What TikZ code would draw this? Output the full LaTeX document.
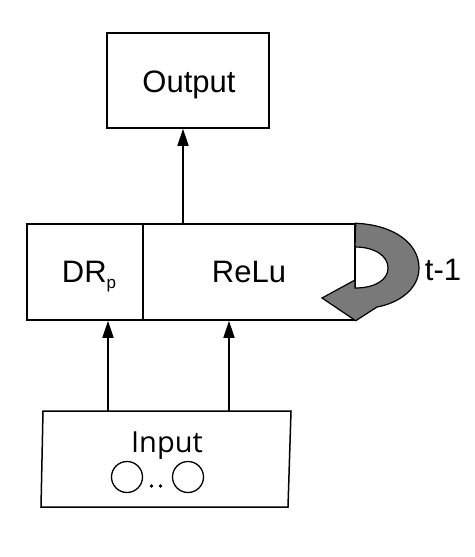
\documentclass[tikz,border=0pt]{standalone}
\usepackage{fontspec}
\setmainfont{Liberation Sans}
\newfontfamily\inputfont{Open Sans}
\usetikzlibrary{arrows.meta}
\begin{document}
\begin{tikzpicture}[x=1pt,y=-1pt,
  box/.style={draw,line width=1.5pt,inner sep=0pt,minimum width=#1},
  lbl/.style={font=\fontsize{31}{34}\selectfont,inner sep=0pt,anchor=base},
  arr/.style={line width=1.5pt,-{Triangle[width=11pt,length=17pt]}}]
\useasboundingbox (0,0) rectangle (474,557);
% boxes
\node[box=162pt,minimum height=95pt] (out) at (188,80.5) {};
\node[box=116pt,minimum height=96pt] (dr) at (85,272) {};
\node[box=212pt,minimum height=96pt] (relu) at (249,272) {};
% input box
\coordinate (i1) at (43,411);
\coordinate (i2) at (291,411);
\coordinate (i3) at (288,507);
\coordinate (i4) at (41,507);
\draw[line width=1.5pt,line join=miter] (i1) -- (i2) -- (i3) -- (i4) -- cycle;
% labels
\node[lbl] (tout) at (189,92) {Output};
\node[lbl] (tdr) at (89,282) {DR\raisebox{-6pt}{\fontsize{17}{18}\selectfont p}};
\node[lbl] (trelu) at (249,282) {ReLu};
\node[lbl] (tt) at (443,280) {t-1};
\node[font=\inputfont\fontsize{29}{30}\selectfont,inner sep=0pt,anchor=base] (tin) at (167,452) {Input};
% input circles
\draw[line width=1.3pt] (127,477) circle (15.5);
\draw[line width=1.3pt] (188,477) circle (15.5);
\fill (151.5,486) circle (1.8);
\fill (160.5,486) circle (1.8);
% arrows
\coordinate (a1) at (108,411);
\coordinate (a2) at (229,411);
\coordinate (a3) at (183,224);
\draw[arr] (a1) -- (a1 |- dr.south);
\draw[arr] (a2) -- (a2 |- relu.south);
\draw[arr] (a3) -- (a3 |- out.south);
% loop arrow
\draw[line width=1.2pt,fill=gray!95!black,line join=miter]
  (relu.north east) .. controls (395,225) and (419,244) .. (419,268)
  .. controls (419,289) and (399,303) .. (377,307)
  -- (relu.south east) -- (322,298) -- (355,280) -- (355,288)
  .. controls (375,288) and (388,280) .. (388,268)
  .. controls (388,256) and (375,247) .. (355,247) -- cycle;
\end{tikzpicture}
\end{document}
